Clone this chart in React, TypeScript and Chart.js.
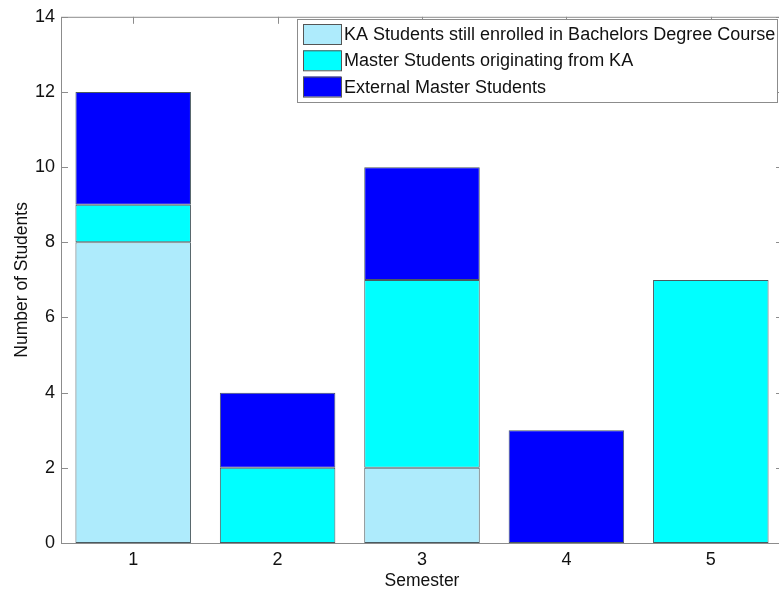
import React, { useEffect, useRef } from "react";
import { Chart, registerables } from "chart.js";

Chart.register(...registerables);

const categories = ["1", "2", "3", "4", "5"];
const seriesLabels = [
  "KA Students still enrolled in Bachelors Degree Course",
  "Master Students originating from KA",
  "External Master Students",
];
const kaBachelor = [8, 0, 2, 0, 0];
const masterFromKA = [1, 2, 5, 0, 7];
const externalMaster = [3, 2, 3, 3, 0];
const seriesColors = ["#AEEBFC", "#00FFFF", "#0000FF"];
const yTicks = [0, 2, 4, 6, 8, 10, 12, 14];

const FONT = "'Liberation Sans', Arial, Helvetica, sans-serif";

const framePlugin = {
  id: "matlabFrame",
  beforeDatasetsDraw(chart: any) {
    const { ctx, chartArea, scales } = chart;
    const { left, right, top, bottom } = chartArea;
    ctx.save();
    ctx.strokeStyle = "#8c8c8c";
    ctx.lineWidth = 1;
    ctx.strokeRect(left + 0.5, top + 0.5, right - left, bottom - top);
    const tl = 7;
    ctx.beginPath();
    yTicks.forEach((v) => {
      const y = Math.round(scales.y.getPixelForValue(v)) + 0.5;
      ctx.moveTo(left, y);
      ctx.lineTo(left + tl, y);
      ctx.moveTo(right, y);
      ctx.lineTo(right - tl, y);
    });
    categories.forEach((_, i) => {
      const x = Math.round(scales.x.getPixelForValue(i)) + 0.5;
      ctx.moveTo(x, top);
      ctx.lineTo(x, top + tl);
      ctx.moveTo(x, bottom);
      ctx.lineTo(x, bottom - tl);
    });
    ctx.stroke();
    ctx.restore();
  },
  afterDatasetsDraw(chart: any) {
    const { ctx, chartArea } = chart;
    ctx.save();
    ctx.strokeStyle = "#8c8c8c";
    ctx.lineWidth = 1;
    ctx.beginPath();
    ctx.moveTo(chartArea.left + 0.5, chartArea.bottom + 0.5);
    ctx.lineTo(chartArea.right, chartArea.bottom + 0.5);
    ctx.stroke();

    // legend box
    const bx = 297, by = 19, bw = 480, bh = 83;
    ctx.fillStyle = "#ffffff";
    ctx.fillRect(bx, by, bw, bh);
    ctx.strokeStyle = "#8c8c8c";
    ctx.strokeRect(bx + 0.5, by + 0.5, bw, bh);
    ctx.font = `18px ${FONT}`;
    ctx.textBaseline = "middle";
    chart.data.datasets.forEach((ds: any, i: number) => {
      const sy = 24 + i * 26.3;
      ctx.fillStyle = ds.backgroundColor;
      ctx.fillRect(303, sy, 38, 20);
      ctx.strokeStyle = "#555";
      ctx.strokeRect(303.5, sy + 0.5, 38, 20);
      ctx.fillStyle = "#111";
      ctx.fillText(ds.label, 344, sy + 11);
    });
    ctx.restore();
  },
};

export default function App() {
  const ref = useRef<HTMLCanvasElement>(null);
  useEffect(() => {
    if (!ref.current) return;
    const chart = new Chart(ref.current, {
      type: "bar",
      data: {
        labels: categories,
        datasets: [kaBachelor, masterFromKA, externalMaster].map((d, i) => ({
          label: seriesLabels[i],
          data: d,
          backgroundColor: seriesColors[i],
          borderColor: "#4a5a60",
          borderWidth: 1,
          borderSkipped: false,
          barPercentage: 0.8,
          categoryPercentage: 1,
        })),
      },
      options: {
        animation: false,
        responsive: false,
        devicePixelRatio: 1,
        layout: { padding: { left: 0, top: 14, right: 17, bottom: 0 } },
        plugins: { legend: { display: false }, tooltip: { enabled: false } },
        scales: {
          x: {
            stacked: true,
            grid: { display: false, drawTicks: false },
            border: { display: false },
            ticks: { color: "#111", font: { family: FONT, size: 18 }, padding: 6 },
            title: {
              display: true,
              text: "Semester",
              color: "#111",
              font: { family: FONT, size: 17.5 },
              padding: { top: -2, bottom: -2 },
            },
            afterFit: (s: any) => {
              s.height = 47;
            },
          },
          y: {
            stacked: true,
            min: 0,
            max: 14,
            grid: { display: false, drawTicks: false },
            border: { display: false },
            ticks: { stepSize: 2, color: "#111", font: { family: FONT, size: 18 }, padding: 6 },
            title: {
              display: true,
              text: "Number of Students",
              color: "#111",
              font: { family: FONT, size: 17.5 },
              padding: { top: 12, bottom: 0 },
            },
            afterFit: (s: any) => {
              s.width = 61;
            },
          },
        },
      },
      plugins: [framePlugin],
    });
    return () => chart.destroy();
  }, []);
  return (
    <div style={{ position: "fixed", left: 0, top: 0, width: 779, height: 590, overflow: "hidden", background: "#fff" }}>
      <canvas ref={ref} width={800} height={590} style={{ display: "block" }} />
    </div>
  );
}
